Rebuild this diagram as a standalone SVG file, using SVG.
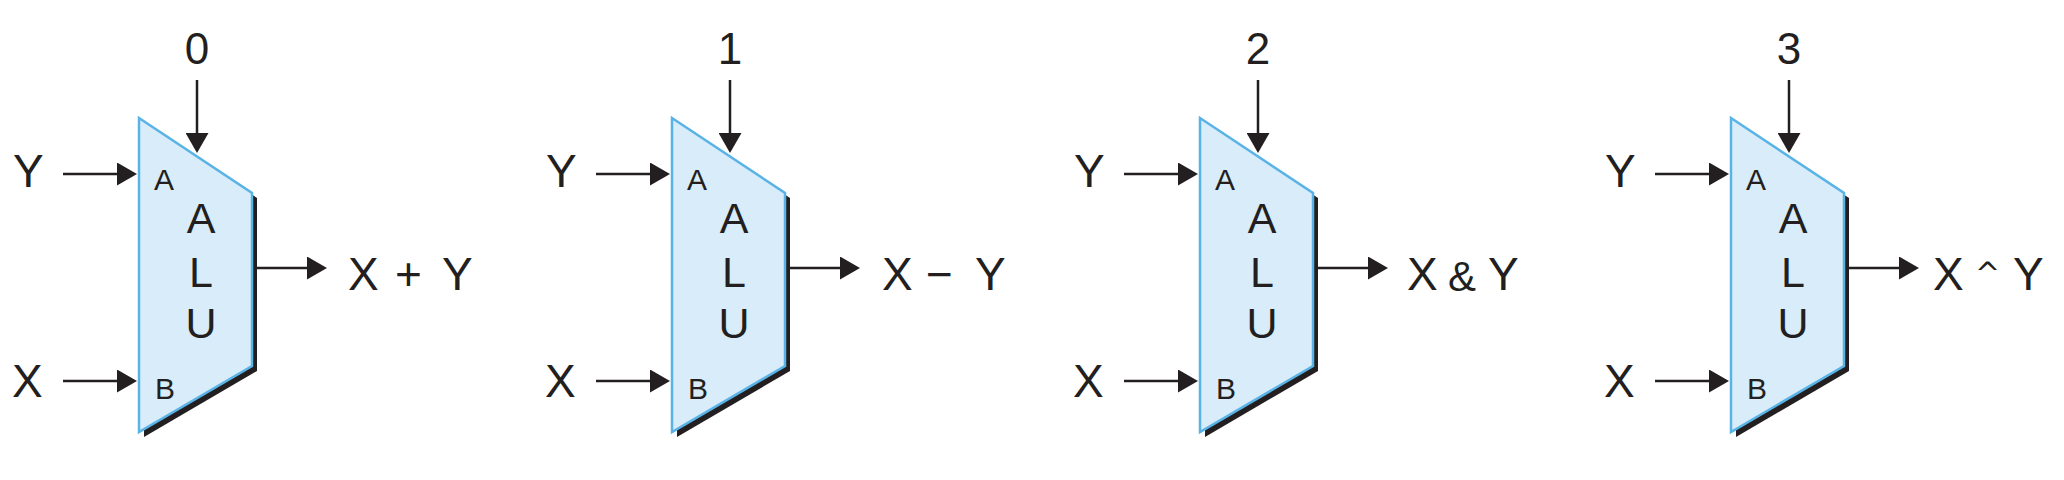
<svg xmlns="http://www.w3.org/2000/svg" width="2064" height="480" viewBox="0 0 2064 480">
<style>
text{font-family:"Liberation Sans",Arial,sans-serif;fill:#231F20}
.op{font-size:44px;text-anchor:middle}
.in{font-size:46px}
.port{font-size:30px}
.alu{font-size:43px;text-anchor:middle}
.out{font-size:46px}
.body{fill:#D8ECF9;stroke:#5AB3E6;stroke-width:2.5;stroke-linejoin:miter}
.shadow{fill:#231F20}
.wire{fill:none;stroke:#231F20;stroke-width:2.5}
</style>
<defs>
<marker id="ah" viewBox="0 0 20 23" refX="17" refY="11.5" markerWidth="20" markerHeight="23" markerUnits="userSpaceOnUse" orient="auto">
<path d="M0,0 L20,11.5 L0,23 z" fill="#231F20"/>
</marker>
</defs>
<rect width="2064" height="480" fill="#FFFFFF"/>

<g id="alu-add">
<polygon class="shadow" points="144,123 257,198 257,371 144,437"/>
<polygon class="body" points="139,118 252,193 252,366 139,432"/>
<text class="op" x="197" y="64">0</text>
<text class="in" x="13" y="187">Y</text>
<text class="in" x="12" y="397">X</text>
<text class="port" x="154" y="190">A</text>
<text class="port" x="155" y="399">B</text>
<text class="alu" x="201" y="233">A</text>
<text class="alu" x="201" y="287">L</text>
<text class="alu" x="201" y="338">U</text>
<text class="out" y="290"><tspan x="348">X</tspan> <tspan x="395">+</tspan> <tspan x="442">Y</tspan></text>
</g>

<g id="alu-sub">
<polygon class="shadow" points="677,123 790,198 790,371 677,437"/>
<polygon class="body" points="672,118 785,193 785,366 672,432"/>
<text class="op" x="730" y="64">1</text>
<text class="in" x="546" y="187">Y</text>
<text class="in" x="545" y="397">X</text>
<text class="port" x="687" y="190">A</text>
<text class="port" x="688" y="399">B</text>
<text class="alu" x="734" y="233">A</text>
<text class="alu" x="734" y="287">L</text>
<text class="alu" x="734" y="338">U</text>
<text class="out" y="290"><tspan x="882">X</tspan> <tspan x="926">−</tspan> <tspan x="975">Y</tspan></text>
</g>

<g id="alu-and">
<polygon class="shadow" points="1205,123 1318,198 1318,371 1205,437"/>
<polygon class="body" points="1200,118 1313,193 1313,366 1200,432"/>
<text class="op" x="1258" y="64">2</text>
<text class="in" x="1074" y="187">Y</text>
<text class="in" x="1073" y="397">X</text>
<text class="port" x="1215" y="190">A</text>
<text class="port" x="1216" y="399">B</text>
<text class="alu" x="1262" y="233">A</text>
<text class="alu" x="1262" y="287">L</text>
<text class="alu" x="1262" y="338">U</text>
<text class="out" y="290"><tspan x="1407">X</tspan> <tspan x="1448" y="291" font-size="42">&amp;</tspan> <tspan x="1488" y="290">Y</tspan></text>
</g>

<g id="alu-xor">
<polygon class="shadow" points="1736,123 1849,198 1849,371 1736,437"/>
<polygon class="body" points="1731,118 1844,193 1844,366 1731,432"/>
<text class="op" x="1789" y="64">3</text>
<text class="in" x="1605" y="187">Y</text>
<text class="in" x="1604" y="397">X</text>
<text class="port" x="1746" y="190">A</text>
<text class="port" x="1747" y="399">B</text>
<text class="alu" x="1793" y="233">A</text>
<text class="alu" x="1793" y="287">L</text>
<text class="alu" x="1793" y="338">U</text>
<text class="out" y="290"><tspan x="1933">X</tspan> <tspan x="1975" y="284" font-family="DejaVu Sans" font-size="30">^</tspan> <tspan x="2013" y="290">Y</tspan></text>
</g>

<g id="connectors">
<path class="wire" marker-end="url(#ah)" d="M63,174 H134"/>
<path class="wire" marker-end="url(#ah)" d="M63,381 H134"/>
<path class="wire" marker-end="url(#ah)" d="M197,80 V150"/>
<path class="wire" marker-end="url(#ah)" d="M257,268 H324"/>

<path class="wire" marker-end="url(#ah)" d="M596,174 H667"/>
<path class="wire" marker-end="url(#ah)" d="M596,381 H667"/>
<path class="wire" marker-end="url(#ah)" d="M730,80 V150"/>
<path class="wire" marker-end="url(#ah)" d="M790,268 H857"/>

<path class="wire" marker-end="url(#ah)" d="M1124,174 H1195"/>
<path class="wire" marker-end="url(#ah)" d="M1124,381 H1195"/>
<path class="wire" marker-end="url(#ah)" d="M1258,80 V150"/>
<path class="wire" marker-end="url(#ah)" d="M1318,268 H1385"/>

<path class="wire" marker-end="url(#ah)" d="M1655,174 H1726"/>
<path class="wire" marker-end="url(#ah)" d="M1655,381 H1726"/>
<path class="wire" marker-end="url(#ah)" d="M1789,80 V150"/>
<path class="wire" marker-end="url(#ah)" d="M1849,268 H1916"/>
</g>
</svg>
